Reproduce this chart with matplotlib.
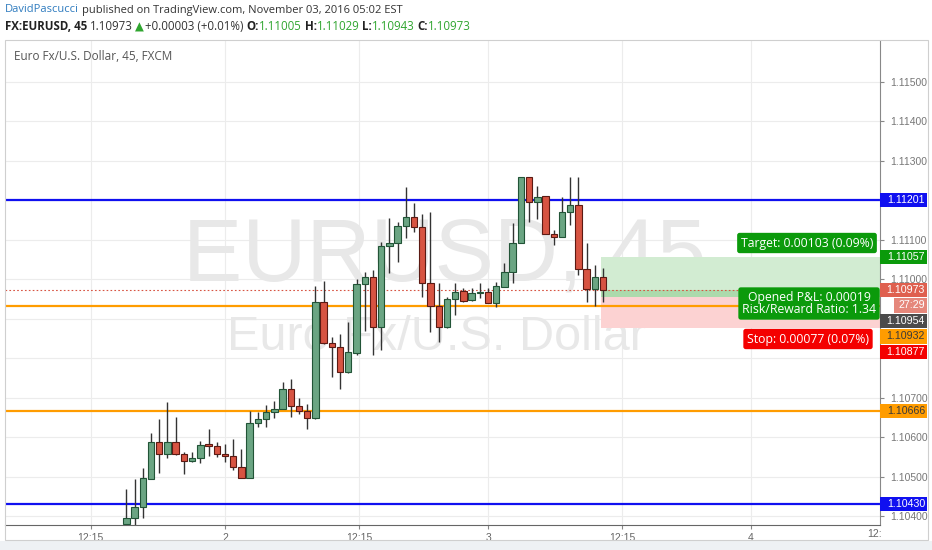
import numpy as np
import matplotlib
matplotlib.use('Agg')
import matplotlib.pyplot as plt
import matplotlib.transforms as mtransforms
from matplotlib.patches import Rectangle

# 45 min bars, index 0 = first bar of Nov 2
bar_idx = np.arange(-12, 47)
opens = [1.10380, 1.10395, 1.10423, 1.10494, 1.10588, 1.10557, 1.10588, 1.10557, 1.10539, 1.10547, 1.10582, 1.10577,
         1.10557, 1.10552, 1.10524, 1.10496, 1.10636, 1.10646, 1.10664, 1.10671, 1.10722, 1.10679, 1.10666, 1.10648,
         1.10942, 1.10838, 1.10828, 1.10765, 1.10813, 1.10988, 1.11006, 1.10879, 1.11084, 1.11092, 1.11135, 1.11158,
         1.11132, 1.10991, 1.10932, 1.10879, 1.10950, 1.10970, 1.10947, 1.10965,
         1.10968, 1.10940, 1.10980, 1.11018, 1.11092, 1.11259, 1.11196, 1.11211, 1.11115, 1.11107, 1.11170, 1.11188,
         1.11026, 1.10975, 1.11005]
highs = [1.10468, 1.10494, 1.10522, 1.10610, 1.10646, 1.10689, 1.10651, 1.10562, 1.10562, 1.10590, 1.10620, 1.10588,
         1.10582, 1.10595, 1.10570, 1.10666, 1.10664, 1.10681, 1.10691, 1.10740, 1.10747, 1.10699, 1.10684, 1.10983,
         1.10996, 1.10854, 1.10861, 1.10892, 1.11001, 1.11018, 1.11024, 1.11095, 1.11155, 1.11145, 1.11234, 1.11193,
         1.11165, 1.11170, 1.10991, 1.10955, 1.10991, 1.10978, 1.10978, 1.10991,
         1.10978, 1.10993, 1.11041, 1.11143, 1.11259, 1.11259, 1.11236, 1.11211, 1.11125, 1.11209, 1.11259, 1.11259,
         1.11092, 1.11036, 1.11029]
lows = [1.10377, 1.10377, 1.10395, 1.10494, 1.10509, 1.10547, 1.10555, 1.10506, 1.10537, 1.10534, 1.10552, 1.10550,
        1.10537, 1.10517, 1.10496, 1.10496, 1.10626, 1.10626, 1.10648, 1.10671, 1.10651, 1.10659, 1.10620, 1.10646,
        1.10836, 1.10752, 1.10722, 1.10762, 1.10808, 1.10869, 1.10808, 1.10821, 1.11016, 1.11044, 1.11105, 1.11120,
        1.10955, 1.10866, 1.10841, 1.10876, 1.10909, 1.10942, 1.10945, 1.10952,
        1.10940, 1.10930, 1.10980, 1.10991, 1.11092, 1.11145, 1.11153, 1.11115, 1.11087, 1.11107, 1.11137, 1.11011,
        1.10942, 1.10932, 1.10943]
closes = [1.10395, 1.10423, 1.10496, 1.10588, 1.10557, 1.10588, 1.10557, 1.10539, 1.10547, 1.10580, 1.10577, 1.10557,
          1.10552, 1.10524, 1.10496, 1.10636, 1.10646, 1.10664, 1.10671, 1.10722, 1.10679, 1.10666, 1.10648, 1.10942,
          1.10838, 1.10828, 1.10765, 1.10816, 1.10988, 1.11006, 1.10879, 1.11084, 1.11092, 1.11135, 1.11158, 1.11132,
          1.10991, 1.10932, 1.10879, 1.10950, 1.10968, 1.10945, 1.10965, 1.10968,
          1.10940, 1.10983, 1.11018, 1.11092, 1.11259, 1.11196, 1.11209, 1.11115, 1.11107, 1.11170, 1.11188, 1.11026,
          1.10975, 1.11006, 1.10973]

x_tick_pos = [-16.33, 0, 16.33, 32, 48.33, 64]
x_tick_labels = ['12:15', '2', '12:15', '3', '12:15', '4']
y_ticks = [1.104, 1.105, 1.106, 1.107, 1.108, 1.109, 1.110, 1.111, 1.112, 1.113, 1.114, 1.115]
# tick labels that sit (almost) fully under a price label box
hidden_ticks = [1.108, 1.109, 1.112]

blue_levels = [1.11201, 1.10430]
orange_levels = [1.10932, 1.10666]
last_price = 1.10973
entry_price = 1.10954
target_price = 1.11057
stop_price = 1.10877

W, H = 932, 550
fig = plt.figure(figsize=(9.32, 5.5), dpi=100)
fig.patch.set_facecolor('white')


def fx(px):
    return px / W


def fy(py):
    return 1 - py / H


# background frame + bottom band
fig.patches.append(Rectangle((0, 0), 1, fy(541), transform=fig.transFigure, fc='#eef1f4', ec='none', zorder=0))
fig.patches.append(Rectangle((fx(5), fy(540)), fx(928) - fx(5), fy(40) - fy(540), transform=fig.transFigure,
                             fc='none', ec='#cfcfcf', lw=0.8, zorder=0))

ax = fig.add_axes([fx(5), fy(525), fx(880) - fx(5), (525 - 41) / H])
ax.set_xlim(-26.76, 79.68)
ax.set_ylim(1.103772, 1.116039)
ax.set_facecolor('white')

# grid
for xv in x_tick_pos:
    ax.axvline(xv, color='#ececec', lw=0.8, zorder=0.5)
for yv in y_ticks:
    ax.axhline(yv, color='#ececec', lw=0.8, zorder=0.5)

# watermark
ax.text(fx(445), fy(258), 'EURUSD, 45', transform=fig.transFigure, ha='center', va='center',
        fontsize=64, color='#e8e8e8', family='Liberation Sans', zorder=0.6)
ax.text(fx(436), fy(337), 'Euro Fx/U.S. Dollar', transform=fig.transFigure, ha='center', va='center',
        fontsize=35, color='#e8e8e8', family='Liberation Sans', zorder=0.6)

# position tool
pos_x0 = 45.75
pos_w = 40
ax.add_patch(Rectangle((pos_x0, entry_price), pos_w, target_price - entry_price, fc='#d2ecd2', ec='none', zorder=1))
ax.add_patch(Rectangle((pos_x0, entry_price), pos_w, last_price - entry_price, fc='#acdaac', ec='none', zorder=1.1))
ax.add_patch(Rectangle((pos_x0, stop_price), pos_w, entry_price - stop_price, fc='#fcd2d2', ec='none', zorder=1))

# levels
for lv in blue_levels:
    ax.axhline(lv, color='#1010f0', lw=1.6, zorder=2)
for lv in orange_levels:
    ax.axhline(lv, color='#ff9c00', lw=1.6, zorder=2)
ax.axhline(last_price, color='#d75442', lw=0.8, ls=(0, (1.5, 2)), zorder=2.1)

# candles
o = np.array(opens)
c = np.array(closes)
up = c >= o
body_lo = np.minimum(o, c)
body_h = np.maximum(np.abs(c - o), 0.000015)
ax.vlines(bar_idx, lows, highs, color='#333333', lw=1.0, zorder=3)
ax.bar(bar_idx[up], body_h[up], bottom=body_lo[up], width=0.78, color='#6ba583', edgecolor='#225437',
       linewidth=0.8, zorder=4)
ax.bar(bar_idx[~up], body_h[~up], bottom=body_lo[~up], width=0.78, color='#d75442', edgecolor='#5b1a13',
       linewidth=0.8, zorder=4)

# axes styling
for s in ['top', 'left']:
    ax.spines[s].set_visible(False)
ax.spines['bottom'].set_color('#666666')
ax.spines['right'].set_color('#888888')
ax.yaxis.tick_right()
ax.set_yticks(y_ticks)
ax.set_yticklabels(['' if any(abs(v - h) < 1e-9 for h in hidden_ticks) else '%.5f' % v for v in y_ticks])
ax.set_xticks(x_tick_pos)
ax.set_xticklabels(x_tick_labels)
ax.tick_params(axis='y', length=3, pad=4, labelsize=7.5, colors='#888888', labelcolor='#777777')
ax.tick_params(axis='x', length=3, pad=3, labelsize=7.5, colors='#888888', labelcolor='#666666')
for lab in ax.get_xticklabels() + ax.get_yticklabels():
    lab.set_family('Liberation Sans')
ax.text(fx(882), fy(534), '12:', transform=fig.transFigure, ha='right', va='center', fontsize=7.5,
        color='#666666', family='Liberation Sans')

ax.text(fx(14), fy(56), 'Euro Fx/U.S. Dollar, 45, FXCM', transform=fig.transFigure, ha='left', va='center',
        fontsize=8.5, color='#555555', family='Open Sans', zorder=6)

# right axis price labels, stacked downward so they don't overlap
blend = mtransforms.blended_transform_factory(fig.transFigure, ax.transData)
px_price = (1.116039 - 1.103772) / 484
lab_h = 15.5 * px_price
right_labels = [
    ('1.11201', 1.11201, '#1010f0', 'white', 880),
    ('1.11057', 1.11057, '#0b9a0b', 'white', 880),
    ('1.10973', 1.10973, '#df604f', 'white', 880),
    ('27:29', 1.10973, '#e5877b', 'white', 894),
    ('1.10954', 1.10954, '#4b4b4b', 'white', 880),
    ('1.10932', 1.10932, '#ff9c00', '#3a3a3a', 880),
    ('1.10877', 1.10877, '#f40000', 'white', 880),
    ('1.10666', 1.10666, '#ff9c00', '#3a3a3a', 880),
    ('1.10430', 1.10430, '#1010f0', 'white', 880),
]
prev = None
for txt, price, bg, fg, x0 in right_labels:
    yv = price
    if prev is not None and prev - yv < lab_h:
        yv = prev - lab_h
    prev = yv
    ax.add_patch(Rectangle((fx(x0), yv - lab_h / 2 + px_price * 0.5), fx(927) - fx(x0), lab_h - px_price,
                           transform=blend, fc=bg, ec='none', clip_on=False, zorder=7))
    ax.text(fx(925), yv, txt, transform=blend, ha='right', va='center', fontsize=7.7, color=fg,
            family='Liberation Sans', clip_on=False, zorder=8)

# position labels
box = dict(boxstyle='round,pad=0.3,rounding_size=0.2', ec='none')
ax.text(fx(807), fy(243), 'Target: 0.00103 (0.09%)', transform=fig.transFigure, ha='center', va='center',
        fontsize=8.8, color='white', family='Open Sans', bbox=dict(box, fc='#0b9a0b'), zorder=9)
ax.text(fx(809), fy(303.5), 'Opened P&L: 0.00019\nRisk/Reward Ratio: 1.34', transform=fig.transFigure,
        ha='center', va='center', fontsize=8.8, color='white', family='Open Sans', linespacing=0.9,
        bbox=dict(box, fc='#0b9a0b'), zorder=9)
ax.text(fx(808), fy(339), 'Stop: 0.00077 (0.07%)', transform=fig.transFigure, ha='center', va='center',
        fontsize=8.8, color='white', family='Open Sans', bbox=dict(box, fc='#f40000'), zorder=9)

# header
renderer = fig.canvas.get_renderer()


def chain(x_px, y_px, parts, size):
    x = x_px
    for s, color, weight, gap in parts:
        t = fig.text(fx(x), fy(y_px), s, color=color, fontsize=size, fontweight=weight,
                     family=['Open Sans', 'DejaVu Sans'], ha='left', va='center')
        x += t.get_window_extent(renderer=renderer).width + gap


chain(5, 10, [('DavidPascucci', '#2e7bbf', 'normal', 3),
              ('published on TradingView.com, November 03, 2016 05:02 EST', '#333333', 'normal', 0)], 8.0)
green = '#2fa52f'
chain(5, 27, [('FX:EURUSD, 45', '#222222', 'bold', 3),
              ('1.10973', '#333333', 'normal', 2),
              ('\u25b2', green, 'normal', 1),
              ('+0.00003 (+0.01%)', '#333333', 'normal', 3),
              ('O:', '#222222', 'bold', 0), ('1.11005', green, 'normal', 3),
              ('H:', '#222222', 'bold', 0), ('1.11029', green, 'normal', 3),
              ('L:', '#222222', 'bold', 0), ('1.10943', green, 'normal', 3),
              ('C:', '#222222', 'bold', 0), ('1.10973', green, 'normal', 0)], 8.3)

fig.savefig('out.png', dpi=100, facecolor='white')
